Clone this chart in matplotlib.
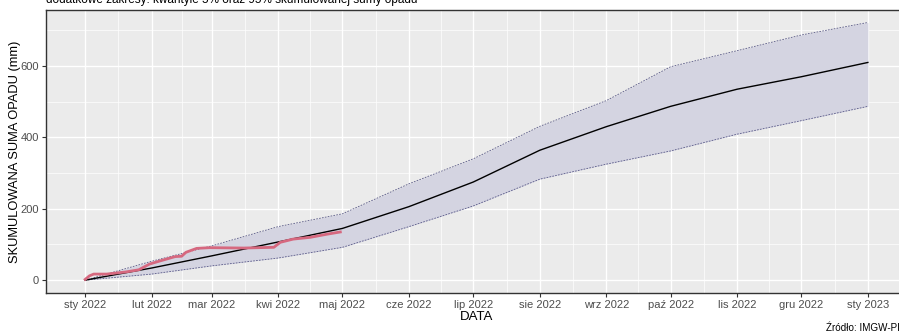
import matplotlib
matplotlib.use("Agg")
import matplotlib.pyplot as plt
import matplotlib.dates as mdates
import numpy as np
import datetime as dt

# ---- data ----
month_starts = ["2022-01-01", "2022-02-01", "2022-03-01", "2022-04-01", "2022-05-01",
                "2022-06-01", "2022-07-01", "2022-08-01", "2022-09-01", "2022-10-01",
                "2022-11-01", "2022-12-01", "2023-01-01"]
median_cum = [0, 34, 68, 107, 145, 206, 275, 364, 430, 487, 535, 570, 610]
q95_cum = [0, 53, 96, 150, 186, 270, 340, 431, 503, 598, 643, 687, 722]
q05_cum = [0, 17, 40, 62, 92, 150, 208, 283, 325, 362, 409, 447, 487]

obs_dates = ["2022-01-01", "2022-01-03", "2022-01-05", "2022-01-11", "2022-01-20",
             "2022-01-26", "2022-01-31", "2022-02-05", "2022-02-12", "2022-02-15",
             "2022-02-17", "2022-02-22", "2022-02-28", "2022-03-16", "2022-03-30",
             "2022-04-02", "2022-04-08", "2022-04-16", "2022-04-24", "2022-04-30"]
obs_cum = [2, 12, 17, 17, 23, 29, 45, 54, 66, 67, 78, 89, 91, 90, 92, 106, 115, 120, 129, 135]

x_tick_labels = ["sty 2022", "lut 2022", "mar 2022", "kwi 2022", "maj 2022", "cze 2022",
                 "lip 2022", "sie 2022", "wrz 2022", "paź 2022", "lis 2022", "gru 2022",
                 "sty 2023"]
y_ticks = [0, 200, 400, 600]

# ---- plot ----
plt.rcParams['font.family'] = ['Liberation Sans', 'DejaVu Sans']
W, H = 899, 333
fig = plt.figure(figsize=(W / 100, H / 100), dpi=100)
left_px, right_px, top_px, bot_px = 46, 907, 10, 293
ax = fig.add_axes([left_px / W, 1 - bot_px / H, (right_px - left_px) / W, (bot_px - top_px) / H])
ax.set_facecolor('#ebebeb')

md = [dt.datetime.fromisoformat(d) for d in month_starts]
mdn = mdates.date2num(md)
od = mdates.date2num([dt.datetime.fromisoformat(d) for d in obs_dates])

ax.fill_between(mdn, q05_cum, q95_cum, color='#d4d4e1', zorder=2, linewidth=0)
ax.plot(mdn, q95_cum, color='#5a5a88', lw=0.6, dashes=(2, 1.5), zorder=3)
ax.plot(mdn, q05_cum, color='#5a5a88', lw=0.6, dashes=(2, 1.5), zorder=3)
ax.plot(mdn, median_cum, color='black', lw=1.0, zorder=4)
ax.plot(od, obs_cum, color='#d6687f', lw=2.0, zorder=5, solid_joinstyle='round')

span = mdn[-1] - mdn[0]
ax.set_xlim(mdn[0] - 0.05 * span, mdn[-1] + 0.05 * span)
ax.set_ylim(-36, 757)

ax.set_xticks(mdn)
ax.set_xticklabels(x_tick_labels)
minor_x = (mdn[:-1] + mdn[1:]) / 2
ax.set_xticks(minor_x, minor=True)
ax.set_yticks(y_ticks)
ax.set_yticks([100, 300, 500, 700], minor=True)

ax.grid(which='major', color='white', lw=1.0, zorder=0)
ax.grid(which='minor', color='white', lw=0.5, zorder=0)
ax.set_axisbelow(True)

ax.tick_params(axis='both', which='major', length=3, width=0.8, color='#333333',
               labelcolor='#4d4d4d', labelsize=8, pad=2)
ax.tick_params(axis='both', which='minor', length=0)
for s in ax.spines.values():
    s.set_color('#333333')
    s.set_linewidth(1.0)

ax.set_xlabel('DATA', fontsize=9.5, color='black', labelpad=1)
ax.set_ylabel('SKUMULOWANA SUMA OPADU (mm)', fontsize=9.3, color='black', labelpad=0)

fig.text(46 / W, 1 - 3.5 / H, 'dodatkowe zakresy: kwantyle 5% oraz 95% skumulowanej sumy opadu',
         fontsize=8.5, ha='left', va='baseline', color='black')
fig.text(826 / W, 1 - 331 / H, 'Źródło: IMGW-PIB', fontsize=7.1, ha='left', va='baseline', color='black')

fig.savefig('out.png', dpi=100)
